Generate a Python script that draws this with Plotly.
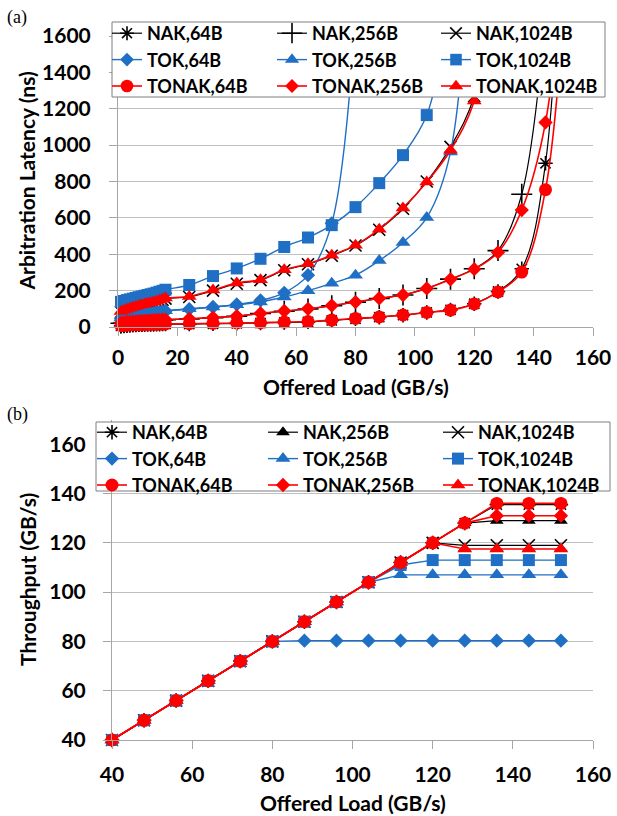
import plotly.graph_objects as go

W, H = 617, 816

# ---------------- (a) Arbitration latency ----------------
load_a = [1, 2, 3, 4, 5, 6, 7, 8, 9, 10, 11, 12, 13, 14, 15, 16,
          24, 32, 40, 48, 56, 64, 72, 80, 88, 96, 104, 112, 120, 128, 136, 144, 152]

lat_nak_64 = [7, 8, 9, 10, 11, 11, 12, 12, 13, 13, 14, 14, 15, 15, 16, 16,
              16, 18, 20, 22, 25, 28, 36, 45, 54, 65, 80, 94, 128, 195, 320, 900, 3500]
lat_nak_256 = [21, 23, 25, 27, 29, 30, 31, 32, 33, 34, 35, 36, 37, 38, 39, 40,
               44, 51, 59, 74, 87, 99, 117, 136, 157, 176, 212, 263, 320, 420, 730, 1700]
lat_nak_1024 = [82, 89, 95, 100, 105, 110, 115, 119, 123, 127, 131, 135, 139, 144, 150, 156,
                165, 200, 238, 258, 312, 345, 392, 448, 535, 650, 800, 990, 1270, 2100]
lat_tok_64 = [45, 48, 51, 54, 57, 60, 63, 66, 69, 72, 75, 78, 81, 83, 85, 88,
              98, 110, 124, 146, 188, 285, 570, 1700]
lat_tok_256 = [50, 53, 56, 59, 62, 65, 68, 71, 74, 77, 79, 81, 83, 85, 87, 90,
               100, 110, 122, 138, 165, 200, 240, 285, 365, 465, 602, 962, 2600]
lat_tok_1024 = [138, 143, 148, 152, 156, 160, 164, 168, 172, 176, 180, 184, 189, 194, 199, 205,
                231, 280, 322, 375, 440, 492, 560, 659, 791, 945, 1165, 1800]
lat_tonak_64 = [8, 9, 10, 11, 12, 12, 13, 13, 14, 14, 15, 15, 16, 16, 17, 17,
                18, 20, 22, 24, 27, 30, 38, 47, 55, 66, 80, 93, 127, 193, 302, 755, 2200]
lat_tonak_256 = [22, 24, 26, 28, 30, 31, 32, 33, 34, 35, 36, 37, 38, 39, 40, 41,
                 45, 52, 60, 75, 88, 100, 118, 137, 158, 176, 212, 262, 318, 410, 643, 1125, 2400]
lat_tonak_1024 = [85, 92, 98, 103, 108, 113, 118, 122, 126, 130, 134, 138, 142, 147, 153, 159,
                  168, 203, 242, 260, 315, 348, 395, 450, 538, 654, 797, 972, 1243, 2000]

# ---------------- (b) Throughput ----------------
load_b = [40, 48, 56, 64, 72, 80, 88, 96, 104, 112, 120, 128, 136, 144, 152]

thr_nak_64 = [40, 48, 56, 64, 72, 80, 88, 96, 104, 112, 120, 128, 135.5, 135.5, 135.5]
thr_nak_256 = [40, 48, 56, 64, 72, 80, 88, 96, 104, 112, 120, 128, 129, 129, 129]
thr_nak_1024 = [40, 48, 56, 64, 72, 80, 88, 96, 104, 112, 120, 119, 119, 119, 119]
thr_tok_64 = [40, 48, 56, 64, 72, 80, 80.3, 80.3, 80.3, 80.3, 80.3, 80.3, 80.3, 80.3, 80.3]
thr_tok_256 = [40, 48, 56, 64, 72, 80, 88, 96, 104, 107, 107, 107, 107, 107, 107]
thr_tok_1024 = [40, 48, 56, 64, 72, 80, 88, 96, 104, 111, 113, 113, 113, 113, 113]
thr_tonak_64 = [40, 48, 56, 64, 72, 80, 88, 96, 104, 112, 120, 128, 136, 136, 136]
thr_tonak_256 = [40, 48, 56, 64, 72, 80, 88, 96, 104, 112, 120, 128, 131, 131, 131]
thr_tonak_1024 = [40, 48, 56, 64, 72, 80, 88, 96, 104, 112, 120, 117.5, 117.5, 117.5, 117.5]

names = ["NAK,64B", "NAK,256B", "NAK,1024B",
         "TOK,64B", "TOK,256B", "TOK,1024B",
         "TONAK,64B", "TONAK,256B", "TONAK,1024B"]

BLACK = "#000000"
BLUE = "#1F6FC5"
RED = "#FF0000"

# style per series: (color, symbol, size, open-line-width, line width)
style_a = [
    (BLACK, "asterisk-open", 12, 1.6, 1.2),
    (BLACK, "cross-thin-open", 15, 1.6, 1.2),
    (BLACK, "x-thin-open", 12, 1.6, 1.2),
    (BLUE, "diamond", 11, 0, 1.4),
    (BLUE, "triangle-up", 13, 0, 1.4),
    (BLUE, "square", 12, 0, 1.4),
    (RED, "circle", 13, 0, 1.6),
    (RED, "diamond", 11, 0, 1.6),
    (RED, "triangle-up", 13, 0, 1.6),
]
style_b = list(style_a)
style_b[1] = (BLACK, "triangle-up", 12, 0, 1.2)

lat_series = [lat_nak_64, lat_nak_256, lat_nak_1024, lat_tok_64, lat_tok_256,
              lat_tok_1024, lat_tonak_64, lat_tonak_256, lat_tonak_1024]
thr_series = [thr_nak_64, thr_nak_256, thr_nak_1024, thr_tok_64, thr_tok_256,
              thr_tok_1024, thr_tonak_64, thr_tonak_256, thr_tonak_1024]

Y_TOP = 1600

fig = go.Figure()

legend_top = ["legend", "legend2", "legend3"]
legend_bot = ["legend4", "legend5", "legend6"]

for i, (nm, vals) in enumerate(zip(names, lat_series)):
    c, sym, sz, lw, linew = style_a[i]
    # markers of points that lie above the axis range are not shown
    sizes = [sz if v <= Y_TOP else 0 for v in vals]
    fig.add_trace(go.Scatter(
        x=load_a[:len(vals)], y=vals, name=nm, mode="lines+markers",
        line=dict(color=c, width=linew, shape="spline"),
        marker=dict(symbol=sym, size=sizes, sizemode="diameter", sizeref=1,
                    opacity=1, color=c, line=dict(color=c, width=lw)),
        cliponaxis=False,
        xaxis="x", yaxis="y", legend=legend_top[i % 3]))

for i, (nm, vals) in enumerate(zip(names, thr_series)):
    c, sym, sz, lw, linew = style_b[i]
    fig.add_trace(go.Scatter(
        x=load_b, y=vals, name=nm, mode="lines+markers",
        line=dict(color=c, width=linew),
        marker=dict(symbol=sym, size=sz, opacity=1, color=c,
                    line=dict(color=c, width=lw)),
        cliponaxis=False,
        xaxis="x2", yaxis="y2", legend=legend_bot[i % 3]))

def px(x):
    return x / W

def py(y):
    return 1 - y / H

AX = "#A6A6A6"
GRID = "#BFBFBF"
TICKF = dict(size=21, color="#000000")

axis_common = dict(showline=True, linecolor=AX, linewidth=1, ticks="outside",
                   ticklen=8, tickcolor=AX, zeroline=False, tickfont=TICKF,
                   automargin=False)

fig.update_layout(
    template="none",
    width=W, height=H,
    margin=dict(l=0, r=0, t=0, b=0, pad=0),
    paper_bgcolor="white", plot_bgcolor="white",
    font=dict(family="Lato", size=18, color="#000000", weight="bold"),
    showlegend=True,
    xaxis=dict(domain=[px(118), px(593)], range=[0, 160], dtick=20, tick0=0,
               showgrid=False, anchor="y", ticklabelstandoff=4, **axis_common),
    yaxis=dict(domain=[py(327), py(36)], range=[0, Y_TOP], dtick=200, tick0=0,
               showgrid=True, gridcolor=GRID, gridwidth=1, anchor="x",
               ticklabelstandoff=14, **axis_common),
    xaxis2=dict(domain=[px(112), px(593)], range=[40, 160], dtick=20, tick0=40,
                showgrid=False, anchor="y2", ticklabelstandoff=8, **axis_common),
    yaxis2=dict(domain=[py(740), py(419.6)], range=[40, 170],
                tickvals=[40, 60, 80, 100, 120, 140, 160],
                showgrid=True, gridcolor=GRID, gridwidth=1, anchor="x2",
                ticklabelstandoff=13, **axis_common),
)

leg_common = dict(orientation="v", bgcolor="rgba(0,0,0,0)", borderwidth=0,
                  xanchor="left", yanchor="top", tracegroupgap=0,
                  font=dict(family="Lato", size=18, color="#000000", weight="bold"))

top_x = [107, 272, 436]
bot_x = [92, 263, 438]
fig.update_layout(
    legend=dict(x=px(top_x[0]), y=py(15), **leg_common),
    legend2=dict(x=px(top_x[1]), y=py(15), **leg_common),
    legend3=dict(x=px(top_x[2]), y=py(15), **leg_common),
    legend4=dict(x=px(bot_x[0]), y=py(414), **leg_common),
    legend5=dict(x=px(bot_x[1]), y=py(414), **leg_common),
    legend6=dict(x=px(bot_x[2]), y=py(414), **leg_common),
)

# legend frames (white boxes that cover the plot behind them)
fig.add_shape(type="rect", xref="paper", yref="paper", layer="above",
              x0=px(112), x1=px(605), y0=py(97), y1=py(22),
              fillcolor="white", line=dict(color="#7F7F7F", width=1))
fig.add_shape(type="rect", xref="paper", yref="paper", layer="above",
              x0=px(96), x1=px(610), y0=py(491), y1=py(422),
              fillcolor="white", line=dict(color="#7F7F7F", width=1))

TITLEF = dict(family="Lato", size=21, color="#000000", weight="bold")
fig.add_annotation(text="Offered Load (GB/s)", xref="paper", yref="paper",
                   x=px(355.5), y=py(386), xanchor="center", yanchor="middle",
                   showarrow=False, font=TITLEF)
fig.add_annotation(text="Arbitration Latency (ns)", xref="paper", yref="paper",
                   x=px(26), y=py(181.5), xanchor="center", yanchor="middle",
                   textangle=-90, showarrow=False, font=TITLEF)
fig.add_annotation(text="Offered Load (GB/s)", xref="paper", yref="paper",
                   x=px(352.5), y=py(802), xanchor="center", yanchor="middle",
                   showarrow=False, font=TITLEF)
fig.add_annotation(text="Throughput (GB/s)", xref="paper", yref="paper",
                   x=px(27), y=py(580), xanchor="center", yanchor="middle",
                   textangle=-90, showarrow=False, font=TITLEF)

fig.add_annotation(text="(a)", xref="paper", yref="paper", x=px(5), y=py(17),
                   xanchor="left", yanchor="middle", showarrow=False,
                   font=dict(family="Liberation Serif", size=18, color="#000000", weight="normal"))
fig.add_annotation(text="(b)", xref="paper", yref="paper", x=px(5), y=py(414),
                   xanchor="left", yanchor="middle", showarrow=False,
                   font=dict(family="Liberation Serif", size=18, color="#000000", weight="normal"))

# the page's default 8px body margin would push the 617x816 figure past the window
fig.write_html(
    "out.html",
    config={"displayModeBar": False},
    post_script="document.documentElement.style.margin='0';"
                "document.body.style.margin='0';"
                "document.documentElement.style.overflow='hidden';"
                "document.body.style.overflow='hidden';",
)
